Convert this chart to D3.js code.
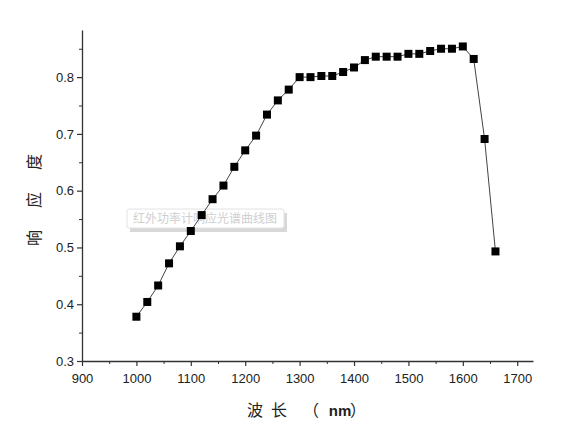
<!DOCTYPE html>
<html>
<head>
<meta charset="utf-8">
<script src="https://cdn.jsdelivr.net/npm/d3@7"></script>
<style>
  body { margin: 0; background: #fff; }
  svg { display: block; }
</style>
</head>
<body>
<div id="chart"></div>
<script>
// wavelength (nm) and response values
var wavelengths = [1000, 1020, 1040, 1060, 1080, 1100, 1120, 1140, 1160, 1180,
                   1200, 1220, 1240, 1260, 1280, 1300, 1320, 1340, 1360, 1380,
                   1400, 1420, 1440, 1460, 1480, 1500, 1520, 1540, 1560, 1580,
                   1600, 1620, 1640, 1660];
var responses = [0.378, 0.404, 0.433, 0.472, 0.502, 0.529, 0.557, 0.585, 0.609, 0.642,
                 0.671, 0.697, 0.734, 0.759, 0.778, 0.800, 0.800, 0.802, 0.802, 0.809,
                 0.817, 0.830, 0.836, 0.836, 0.836, 0.841, 0.841, 0.846, 0.850, 0.850,
                 0.854, 0.832, 0.691, 0.493];
var xTicks = [900, 1000, 1100, 1200, 1300, 1400, 1500, 1600, 1700];
var yTicks = [0.3, 0.4, 0.5, 0.6, 0.7, 0.8];

var data = wavelengths.map(function(w, i) { return {x: w, y: responses[i]}; });

var width = 570, height = 425;
var margin = {top: 30, right: 37, bottom: 64, left: 82};

var svg = d3.select("#chart")
  .append("svg")
    .attr("width", width)
    .attr("height", height);

var x = d3.scaleLinear()
  .domain([900, 1729])
  .range([margin.left, width - margin.right]);

var y = d3.scaleLinear()
  .domain([0.3, 0.883])
  .range([height - margin.bottom, margin.top]);

var font = "'Liberation Sans', Arial, sans-serif";
var cjk = "'Noto Sans CJK SC', sans-serif";

// x axis: minor ticks, then major ticks with labels
var xMinor = d3.range(950, 1729, 100);
svg.append("g")
  .attr("transform", "translate(0," + (height - margin.bottom) + ")")
  .call(d3.axisBottom(x).tickValues(xMinor).tickSize(3).tickFormat(""))
  .call(function(g) {
    g.select(".domain").remove();
    g.selectAll("line").attr("stroke", "#333");
  });
svg.append("g")
  .attr("class", "x-axis")
  .attr("transform", "translate(0," + (height - margin.bottom) + ")")
  .call(d3.axisBottom(x).tickValues(xTicks).tickSize(5).tickSizeOuter(0).tickFormat(d3.format("d")))
  .call(function(g) {
    g.select(".domain").attr("stroke", "#333").attr("stroke-width", 1.3);
    g.selectAll("line").attr("stroke", "#333").attr("stroke-width", 1.2);
    g.selectAll("text").attr("font-family", font).attr("font-size", "13px")
      .attr("fill", "#222").attr("dy", "1.05em");
  });

// y axis
var yMinor = [0.35, 0.45, 0.55, 0.65, 0.75, 0.85];
svg.append("g")
  .attr("transform", "translate(" + margin.left + ",0)")
  .call(d3.axisLeft(y).tickValues(yMinor).tickSize(3).tickFormat(""))
  .call(function(g) {
    g.select(".domain").remove();
    g.selectAll("line").attr("stroke", "#333");
  });
svg.append("g")
  .attr("class", "y-axis")
  .attr("transform", "translate(" + margin.left + ",0)")
  .call(d3.axisLeft(y).tickValues(yTicks).tickSize(5).tickSizeOuter(0).tickFormat(d3.format(".1f")))
  .call(function(g) {
    g.select(".domain").attr("stroke", "#333").attr("stroke-width", 1.3);
    g.selectAll("line").attr("stroke", "#333").attr("stroke-width", 1.2);
    g.selectAll("text").attr("font-family", font).attr("font-size", "13px")
      .attr("fill", "#222").attr("x", -8);
  });

// watermark caption box (sits under the curve)
var cap = svg.append("g").attr("transform", "translate(127,209)");
cap.append("rect")
  .attr("x", 3).attr("y", 4).attr("width", 157).attr("height", 19)
  .attr("fill", "#d8d8d8");
cap.append("rect")
  .attr("x", 0).attr("y", 0).attr("width", 157).attr("height", 19)
  .attr("rx", 2)
  .attr("fill", "#fff")
  .attr("stroke", "#e2e2e2");
cap.append("text")
  .attr("x", 78).attr("y", 14)
  .attr("text-anchor", "middle")
  .attr("font-family", cjk)
  .attr("font-size", "12px")
  .attr("fill", "#cfcfcf")
  .text("红外功率计响应光谱曲线图");

// the line
var line = d3.line()
  .x(function(d) { return x(d.x); })
  .y(function(d) { return y(d.y); });

svg.append("path")
  .datum(data)
  .attr("fill", "none")
  .attr("stroke", "#444")
  .attr("stroke-width", 1)
  .attr("d", line);

// square markers
var s = 8;
svg.selectAll("rect.pt")
  .data(data)
  .enter()
  .append("rect")
    .attr("class", "pt")
    .attr("x", function(d) { return x(d.x) - s / 2; })
    .attr("y", function(d) { return y(d.y) - s / 2; })
    .attr("width", s)
    .attr("height", s)
    .attr("fill", "#000");

// axis titles, characters spread out like the original
var xTitle = svg.append("text")
  .attr("y", 416)
  .attr("text-anchor", "middle")
  .attr("font-family", cjk)
  .attr("font-size", "16px")
  .attr("fill", "#222");
[["波", 255], ["长", 279], ["（", 311], ["nm", 340], ["）", 358]].forEach(function(p) {
  xTitle.append("tspan").attr("x", p[1]).text(p[0]);
});
xTitle.selectAll("tspan").filter(function() { return this.textContent === "nm"; })
  .attr("font-family", font).attr("font-weight", "bold").attr("font-size", "15px");

var yTitle = svg.append("text")
  .attr("transform", "translate(40,200) rotate(-90)")
  .attr("text-anchor", "middle")
  .attr("font-family", cjk)
  .attr("font-size", "16px")
  .attr("fill", "#222");
[["响", -38], ["应", 0], ["度", 38]].forEach(function(p) {
  yTitle.append("tspan").attr("x", p[1]).text(p[0]);
});
</script>
</body>
</html>
